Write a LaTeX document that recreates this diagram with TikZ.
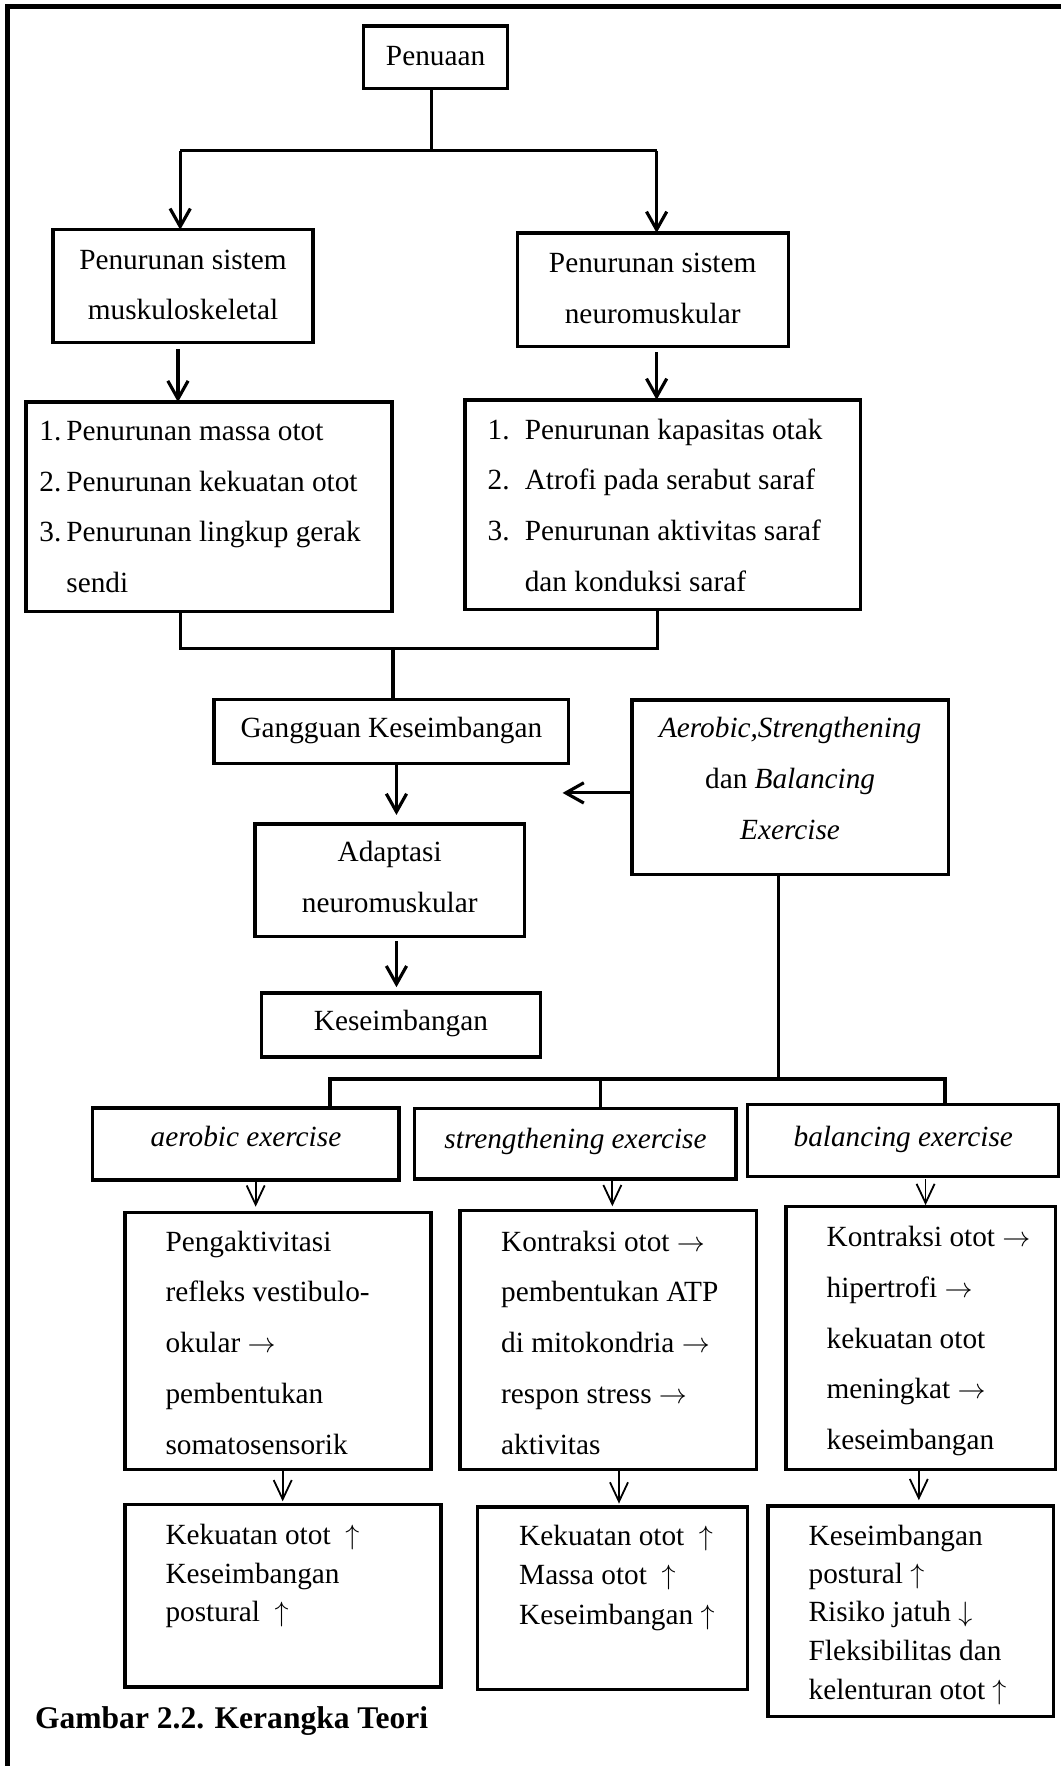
\documentclass[tikz,border=0pt]{standalone}
\usepackage{fontspec}
\setmainfont{Liberation Serif}
\usetikzlibrary{arrows.meta,calc}
\newcommand{\ra}{\ensuremath{\rightarrow}}
\newcommand{\ua}{\ensuremath{\uparrow}}
\newcommand{\da}{\ensuremath{\downarrow}}
\begin{document}
\begin{tikzpicture}[x=1pt,y=-1pt,line join=miter,
  box/.style={draw,line width=3pt,inner sep=0pt,outer sep=0pt},
  lbl/.style={inner sep=0pt,outer sep=0pt,font=\fontsize{26}{30}\selectfont},
  ilbl/.style={inner sep=0pt,outer sep=0pt,font=\fontsize{26}{30}\selectfont\itshape},
  conn/.style={line width=2.8pt},
  arr/.style={line width=2.8pt,-{Straight Barb[length=16pt,width=18pt]}},
  tarr/.style={line width=1.6pt,-{Straight Barb[length=17pt,width=16pt]}}]
\useasboundingbox (0,0) rectangle (942,1568);
% frame
\coordinate (fBL) at (7,1568);
\coordinate (fTL) at (7,6);
\coordinate (fTR) at (942,6);
\draw[line width=4.4pt] (fBL) -- (fTL) -- (fTR);

% boxes
\node[box,minimum width=127.5pt,minimum height=55.5pt] (pen) at (386.75,50.75) {};
\node[box,minimum width=231pt,minimum height=100pt] (msk) at (162.5,254) {};
\node[box,minimum width=240.5pt,minimum height=101pt] (nrm) at (579.75,257.25) {};
\node[box,minimum width=325pt,minimum height=186pt] (lst1) at (185.5,450) {};
\node[box,minimum width=351pt,minimum height=186pt] (lst2) at (588.5,448) {};
\node[box,minimum width=315pt,minimum height=57pt] (gang) at (347.5,649.5) {};
\node[box,minimum width=239pt,minimum height=100pt] (adap) at (346,781.6) {};
\node[box,minimum width=248pt,minimum height=57pt] (kes) at (356,910) {};
\node[box,minimum width=281pt,minimum height=155pt] (aer) at (701.5,699) {};
\node[box,minimum width=272pt,minimum height=64pt] (ae) at (218.4,1015.6) {};
\node[box,minimum width=285.4pt,minimum height=62.8pt] (st) at (510.9,1015.4) {};
\node[box,minimum width=276pt,minimum height=64pt] (ba) at (801.9,1012.6) {};
\node[box,minimum width=271.7pt,minimum height=228.6pt] (pk) at (246.85,1190.7) {};
\node[box,minimum width=263pt,minimum height=230pt] (ks) at (540,1190) {};
\node[box,minimum width=239pt,minimum height=233.5pt] (kb) at (817.5,1187.75) {};
\node[box,minimum width=280.7pt,minimum height=162pt] (b1) at (251.35,1417) {};
\node[box,minimum width=239.8pt,minimum height=162pt] (b2) at (543.9,1419) {};
\node[box,minimum width=253.5pt,minimum height=187pt] (b3) at (808.55,1430.5) {};

% centred texts
\node[lbl,anchor=base] (tpen) at (386.75,58) {Penuaan};
\node[lbl,anchor=base] (tmsk1) at (162.5,239) {Penurunan sistem};
\node[lbl,anchor=base] (tmsk2) at (162.5,284) {muskuloskeletal};
\node[lbl,anchor=base] (tnrm1) at (579.5,242) {Penurunan sistem};
\node[lbl,anchor=base] (tnrm2) at (579.5,287) {neuromuskular};
\node[lbl,anchor=base] (tgang) at (347.5,655) {Gangguan Keseimbangan};
\node[lbl,anchor=base] (tadap1) at (346,765) {Adaptasi};
\node[lbl,anchor=base] (tadap2) at (346,810) {neuromuskular};
\node[lbl,anchor=base] (tkes) at (356,915) {Keseimbangan};
\node[ilbl,anchor=base] (taer1) at (701.5,655) {Aerobic,Strengthening};
\node[lbl,anchor=base] (taer2) at (701.5,700) {dan \textit{Balancing}};
\node[ilbl,anchor=base] (taer3) at (701.5,745) {Exercise};
\node[ilbl,anchor=base] (tae) at (218.4,1018) {aerobic exercise};
\node[ilbl,anchor=base] (tst) at (511,1020) {strengthening exercise};
\node[ilbl,anchor=base] (tba) at (802,1018) {balancing exercise};

% list 1
\foreach \n/\y in {1/391,2/436,3/481}
  \node[lbl,anchor=base west] (la\n) at (35,\y) {\n.};
\foreach \t [count=\i] in {Penurunan massa otot,Penurunan kekuatan otot,Penurunan lingkup gerak,sendi}
  \node[lbl,anchor=base west] (lb\i) at (59,{391+45*(\i-1)}) {\t};
% list 2
\foreach \n/\y in {1/390,2/435,3/480}
  \node[lbl,anchor=base west] (lc\n) at (433,\y) {\n.};
\foreach \t [count=\i] in {Penurunan kapasitas otak,Atrofi pada serabut saraf,Penurunan aktivitas saraf,dan konduksi saraf}
  \node[lbl,anchor=base west] (ld\i) at (466,{390+45*(\i-1)}) {\t};

% middle boxes
\foreach \t [count=\i] in {Pengaktivitasi,refleks vestibulo-,okular \ra,pembentukan,somatosensorik}
  \node[lbl,anchor=base west] (tpk\i) at (147,{1111+45*(\i-1)}) {\t};
\foreach \t [count=\i] in {Kontraksi otot \ra,pembentukan ATP,di mitokondria \ra,respon stress \ra,aktivitas}
  \node[lbl,anchor=base west] (tks\i) at (445,{1111+45*(\i-1)}) {\t};
\foreach \t [count=\i] in {Kontraksi otot \ra,hipertrofi \ra,kekuatan otot,meningkat \ra,keseimbangan}
  \node[lbl,anchor=base west] (tkb\i) at (734,{1107+45*(\i-1)}) {\t};

% bottom boxes
\node[lbl,anchor=base west] (tb11) at (147,1371) {Kekuatan otot\ \ \ua};
\node[lbl,anchor=base west] (tb12) at (147,1406) {Keseimbangan};
\node[lbl,anchor=base west] (tb13) at (147,1440) {postural\ \ \ua};
\node[lbl,anchor=base west] (tb21) at (461,1372) {Kekuatan otot\ \ \ua};
\node[lbl,anchor=base west] (tb22) at (461,1407) {Massa otot\ \ \ua};
\node[lbl,anchor=base west] (tb23) at (461,1442) {Keseimbangan \ua};
\node[lbl,anchor=base west] (tb31) at (718,1372) {Keseimbangan};
\node[lbl,anchor=base west] (tb32) at (718,1406) {postural \ua};
\node[lbl,anchor=base west] (tb33) at (718,1440) {Risiko jatuh \da};
\node[lbl,anchor=base west] (tb34) at (718,1474.5) {Fleksibilitas dan};
\node[lbl,anchor=base west] (tb35) at (718,1508.5) {kelenturan otot \ua};

% caption
\node[inner sep=0pt,font=\fontsize{28}{32}\selectfont\bfseries,anchor=base west] (cap) at (31,1535) {Gambar 2.2. Kerangka Teori};

% connectors
\coordinate (j0) at (383,134);
\coordinate (jL) at (160,134);
\coordinate (jR) at (583,134);
\draw[conn] (pen.south -| j0) -- (j0);
\draw[conn] (jL) -- (jR);
\draw[arr] (jL) -- (jL |- msk.north);
\draw[arr] (jR) -- (jR |- nrm.north);
\coordinate (xm) at (158,0);
\coordinate (xn) at (583,0);
\draw[arr] ($(msk.south -| xm)+(0,6)$) -- (xm |- lst1.north);
\draw[arr] ($(nrm.south -| xn)+(0,5)$) -- (xn |- lst2.north);
\coordinate (jm) at (349,576);
\coordinate (xl) at (160,0);
\coordinate (xr) at (584,0);
\draw[conn] (lst1.south -| xl) |- (jm) -| (lst2.south -| xr);
\draw[conn] (jm) -- (jm |- gang.north);
\coordinate (xg) at (352,0);
\draw[arr] (gang.south -| xg) -- ($(adap.north -| xg)+(0,-8)$);
\draw[arr] ($(adap.south -| xg)+(0,4)$) -- ($(kes.north -| xg)+(0,-5)$);
\coordinate (tipL) at (499.5,704);
\draw[arr] (aer.west |- tipL) -- (tipL);
\coordinate (xv) at (691,0);
\coordinate (jb) at (691,958);
\draw[conn] (aer.south -| xv) -- (jb);
\coordinate (jb1) at (293,958);
\coordinate (jb2) at (533.4,958);
\coordinate (jb3) at (839,958);
\draw[conn] (jb1 |- ae.north) -- (jb1) -- (jb3) -- (jb3 |- ba.north);
\draw[conn] (jb2) -- (jb2 |- st.north);
\coordinate (xa1) at (227,0);
\coordinate (xa2) at (543.7,0);
\coordinate (xa3) at (821.8,0);
\draw[tarr] ($(ae.south -| xa1)+(0,1)$) -- ($(pk.north -| xa1)+(0,-5)$);
\draw[tarr] ($(st.south -| xa2)+(0,2)$) -- ($(ks.north -| xa2)+(0,-4)$);
\draw[tarr] ($(ba.south -| xa3)+(0,2)$) -- ($(kb.north -| xa3)+(0,-1)$);
\coordinate (xb1) at (251,0);
\coordinate (xb2) at (549.6,0);
\coordinate (xb3) at (815.8,0);
\draw[tarr] (pk.south -| xb1) -- ($(b1.north -| xb1)+(0,-3)$);
\draw[tarr] (ks.south -| xb2) -- ($(b2.north -| xb2)+(0,-3)$);
\draw[tarr] (kb.south -| xb3) -- ($(b3.north -| xb3)+(0,-5)$);
\end{tikzpicture}
\end{document}
